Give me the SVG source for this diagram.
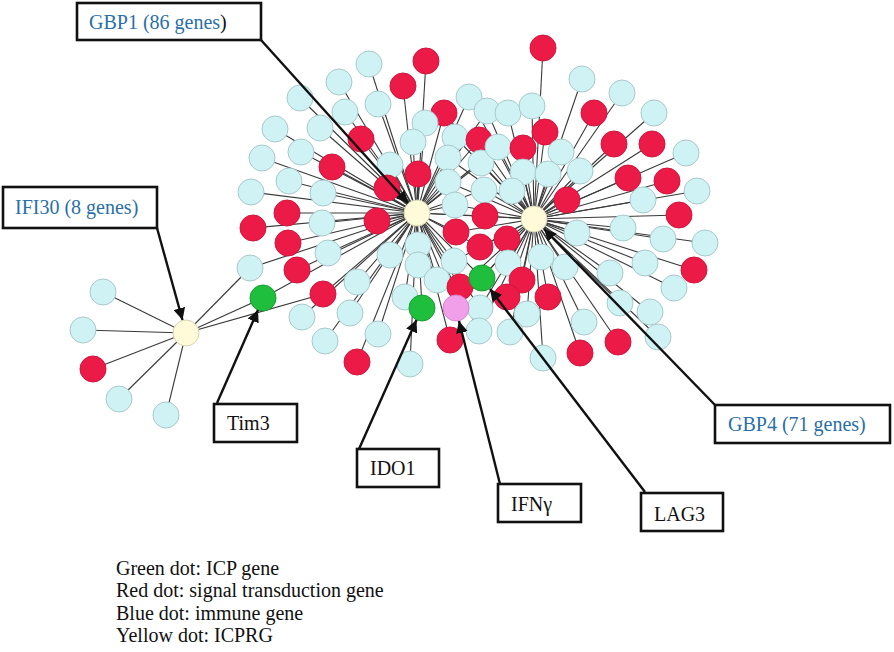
<svg xmlns="http://www.w3.org/2000/svg" width="894" height="652" viewBox="0 0 894 652">
<defs>
<style>
.e{stroke:#3a3a3a;stroke-width:1.1;fill:none}
.b{fill:#cff3f5;stroke:#a9c9cb;stroke-width:1}
.r{fill:#ec1a46;stroke:#d0163d;stroke-width:1}
.g{fill:#1fbe3c;stroke:#17a032;stroke-width:1}
.p{fill:#f29fea;stroke:#d884d0;stroke-width:1}
.y{fill:#fffbd8;stroke:#d8d4b0;stroke-width:1}
.box{fill:#fff;stroke:#111;stroke-width:2.6}
.lead{stroke:#111;stroke-width:2.4;fill:none;marker-end:url(#ah)}
.t{font-family:"Liberation Serif","Times New Roman",serif;font-size:20px;fill:#111}
.bl{fill:#2a6fa8}
</style>
<marker id="ah" viewBox="0 0 10 10" refX="10" refY="5" markerWidth="5" markerHeight="5" orient="auto" markerUnits="strokeWidth">
<path d="M0 0L10 5L0 10z" fill="#111"/>
</marker>
</defs>
<rect width="894" height="652" fill="#fff"/>
<g id="connectors">
<!-- GBP1 hub edges -->
<g id="edges-gbp1">
<line class="e" x1="417" y1="213" x2="426" y2="61"/><line class="e" x1="417" y1="213" x2="369" y2="64"/><line class="e" x1="417" y1="213" x2="403" y2="86"/><line class="e" x1="417" y1="213" x2="339" y2="82"/><line class="e" x1="417" y1="213" x2="300" y2="98"/><line class="e" x1="417" y1="213" x2="378" y2="104"/><line class="e" x1="417" y1="213" x2="444" y2="113"/><line class="e" x1="417" y1="213" x2="345" y2="112"/><line class="e" x1="417" y1="213" x2="425" y2="123"/><line class="e" x1="417" y1="213" x2="320" y2="128"/><line class="e" x1="417" y1="213" x2="275" y2="129"/><line class="e" x1="417" y1="213" x2="361" y2="139"/><line class="e" x1="417" y1="213" x2="413" y2="142"/><line class="e" x1="417" y1="213" x2="455" y2="137"/><line class="e" x1="417" y1="213" x2="479" y2="140"/><line class="e" x1="417" y1="213" x2="301" y2="152"/><line class="e" x1="417" y1="213" x2="262" y2="158"/><line class="e" x1="417" y1="213" x2="332" y2="167"/><line class="e" x1="417" y1="213" x2="390" y2="165"/><line class="e" x1="417" y1="213" x2="418" y2="174"/><line class="e" x1="417" y1="213" x2="448" y2="158"/><line class="e" x1="417" y1="213" x2="481" y2="163"/><line class="e" x1="417" y1="213" x2="289" y2="181"/><line class="e" x1="417" y1="213" x2="387" y2="188"/><line class="e" x1="417" y1="213" x2="323" y2="193"/><line class="e" x1="417" y1="213" x2="251" y2="192"/><line class="e" x1="417" y1="213" x2="448" y2="182"/><line class="e" x1="417" y1="213" x2="469" y2="97"/><line class="e" x1="417" y1="213" x2="487" y2="111"/><line class="e" x1="417" y1="213" x2="498" y2="147"/><line class="e" x1="417" y1="213" x2="484" y2="190"/><line class="e" x1="417" y1="213" x2="287" y2="213"/><line class="e" x1="417" y1="213" x2="322" y2="223"/><line class="e" x1="417" y1="213" x2="377" y2="221"/><line class="e" x1="417" y1="213" x2="455" y2="205"/><line class="e" x1="417" y1="213" x2="485" y2="216"/><line class="e" x1="417" y1="213" x2="253" y2="228"/><line class="e" x1="417" y1="213" x2="288" y2="243"/><line class="e" x1="417" y1="213" x2="456" y2="232"/><line class="e" x1="417" y1="213" x2="480" y2="247"/><line class="e" x1="417" y1="213" x2="328" y2="253"/><line class="e" x1="417" y1="213" x2="390" y2="255"/><line class="e" x1="417" y1="213" x2="418" y2="245"/><line class="e" x1="417" y1="213" x2="418" y2="265"/><line class="e" x1="417" y1="213" x2="454" y2="261"/><line class="e" x1="417" y1="213" x2="250" y2="268"/><line class="e" x1="417" y1="213" x2="297" y2="270"/><line class="e" x1="417" y1="213" x2="357" y2="282"/><line class="e" x1="417" y1="213" x2="437" y2="280"/><line class="e" x1="417" y1="213" x2="482" y2="278"/><line class="e" x1="417" y1="213" x2="460" y2="287"/><line class="e" x1="417" y1="213" x2="405" y2="297"/><line class="e" x1="417" y1="213" x2="323" y2="294"/><line class="e" x1="417" y1="213" x2="263" y2="298"/><line class="e" x1="417" y1="213" x2="422" y2="308"/><line class="e" x1="417" y1="213" x2="456" y2="308"/><line class="e" x1="417" y1="213" x2="480" y2="308"/><line class="e" x1="417" y1="213" x2="302" y2="317"/><line class="e" x1="417" y1="213" x2="350" y2="313"/><line class="e" x1="417" y1="213" x2="325" y2="341"/><line class="e" x1="417" y1="213" x2="378" y2="334"/><line class="e" x1="417" y1="213" x2="450" y2="340"/><line class="e" x1="417" y1="213" x2="479" y2="331"/><line class="e" x1="417" y1="213" x2="357" y2="362"/><line class="e" x1="417" y1="213" x2="410" y2="364"/><line class="e" x1="417" y1="213" x2="534" y2="219"/>
</g>
<!-- GBP4 hub edges -->
<g id="edges-gbp4">
<line class="e" x1="534" y1="219" x2="444" y2="113"/><line class="e" x1="534" y1="219" x2="455" y2="137"/><line class="e" x1="534" y1="219" x2="479" y2="140"/><line class="e" x1="534" y1="219" x2="448" y2="158"/><line class="e" x1="534" y1="219" x2="481" y2="163"/><line class="e" x1="534" y1="219" x2="448" y2="182"/><line class="e" x1="534" y1="219" x2="543" y2="48"/><line class="e" x1="534" y1="219" x2="582" y2="79"/><line class="e" x1="534" y1="219" x2="622" y2="93"/><line class="e" x1="534" y1="219" x2="469" y2="97"/><line class="e" x1="534" y1="219" x2="487" y2="111"/><line class="e" x1="534" y1="219" x2="508" y2="113"/><line class="e" x1="534" y1="219" x2="532" y2="106"/><line class="e" x1="534" y1="219" x2="594" y2="113"/><line class="e" x1="534" y1="219" x2="654" y2="113"/><line class="e" x1="534" y1="219" x2="545" y2="132"/><line class="e" x1="534" y1="219" x2="498" y2="147"/><line class="e" x1="534" y1="219" x2="523" y2="148"/><line class="e" x1="534" y1="219" x2="561" y2="152"/><line class="e" x1="534" y1="219" x2="614" y2="144"/><line class="e" x1="534" y1="219" x2="652" y2="144"/><line class="e" x1="534" y1="219" x2="686" y2="153"/><line class="e" x1="534" y1="219" x2="523" y2="172"/><line class="e" x1="534" y1="219" x2="548" y2="174"/><line class="e" x1="534" y1="219" x2="580" y2="171"/><line class="e" x1="534" y1="219" x2="628" y2="178"/><line class="e" x1="534" y1="219" x2="667" y2="181"/><line class="e" x1="534" y1="219" x2="484" y2="190"/><line class="e" x1="534" y1="219" x2="512" y2="191"/><line class="e" x1="534" y1="219" x2="567" y2="200"/><line class="e" x1="534" y1="219" x2="643" y2="200"/><line class="e" x1="534" y1="219" x2="697" y2="191"/><line class="e" x1="534" y1="219" x2="455" y2="205"/><line class="e" x1="534" y1="219" x2="485" y2="216"/><line class="e" x1="534" y1="219" x2="679" y2="215"/><line class="e" x1="534" y1="219" x2="456" y2="232"/><line class="e" x1="534" y1="219" x2="577" y2="233"/><line class="e" x1="534" y1="219" x2="623" y2="228"/><line class="e" x1="534" y1="219" x2="507" y2="239"/><line class="e" x1="534" y1="219" x2="480" y2="247"/><line class="e" x1="534" y1="219" x2="663" y2="239"/><line class="e" x1="534" y1="219" x2="705" y2="243"/><line class="e" x1="534" y1="219" x2="454" y2="261"/><line class="e" x1="534" y1="219" x2="508" y2="263"/><line class="e" x1="534" y1="219" x2="541" y2="257"/><line class="e" x1="534" y1="219" x2="565" y2="267"/><line class="e" x1="534" y1="219" x2="610" y2="273"/><line class="e" x1="534" y1="219" x2="645" y2="263"/><line class="e" x1="534" y1="219" x2="694" y2="270"/><line class="e" x1="534" y1="219" x2="482" y2="278"/><line class="e" x1="534" y1="219" x2="522" y2="280"/><line class="e" x1="534" y1="219" x2="460" y2="287"/><line class="e" x1="534" y1="219" x2="507" y2="297"/><line class="e" x1="534" y1="219" x2="548" y2="297"/><line class="e" x1="534" y1="219" x2="674" y2="288"/><line class="e" x1="534" y1="219" x2="456" y2="308"/><line class="e" x1="534" y1="219" x2="480" y2="308"/><line class="e" x1="534" y1="219" x2="527" y2="314"/><line class="e" x1="534" y1="219" x2="620" y2="303"/><line class="e" x1="534" y1="219" x2="650" y2="312"/><line class="e" x1="534" y1="219" x2="584" y2="322"/><line class="e" x1="534" y1="219" x2="479" y2="331"/><line class="e" x1="534" y1="219" x2="510" y2="332"/><line class="e" x1="534" y1="219" x2="618" y2="342"/><line class="e" x1="534" y1="219" x2="658" y2="337"/><line class="e" x1="534" y1="219" x2="543" y2="358"/><line class="e" x1="534" y1="219" x2="580" y2="353"/>
</g>
<!-- IFI30 hub edges -->
<g id="edges-ifi30">
<line class="e" x1="186" y1="333" x2="103" y2="292"/><line class="e" x1="186" y1="333" x2="83" y2="330"/><line class="e" x1="186" y1="333" x2="93" y2="369"/><line class="e" x1="186" y1="333" x2="119" y2="399"/><line class="e" x1="186" y1="333" x2="166" y2="415"/><line class="e" x1="186" y1="333" x2="250" y2="268"/><line class="e" x1="186" y1="333" x2="263" y2="298"/><line class="e" x1="186" y1="333" x2="323" y2="294"/>
</g>
</g>
<g id="nodes">
<g id="n1"><circle class="r" cx="426" cy="61" r="13"/></g>
<g id="n2"><circle class="b" cx="369" cy="64" r="13"/></g>
<g id="n3"><circle class="r" cx="403" cy="86" r="13"/></g>
<g id="n4"><circle class="b" cx="339" cy="82" r="13"/></g>
<g id="n5"><circle class="b" cx="300" cy="98" r="13"/></g>
<g id="n6"><circle class="b" cx="378" cy="104" r="13"/></g>
<g id="n7"><circle class="r" cx="444" cy="113" r="13"/></g>
<g id="n8"><circle class="b" cx="345" cy="112" r="13"/></g>
<g id="n9"><circle class="b" cx="425" cy="123" r="13"/></g>
<g id="n10"><circle class="b" cx="320" cy="128" r="13"/></g>
<g id="n11"><circle class="b" cx="275" cy="129" r="13"/></g>
<g id="n12"><circle class="r" cx="361" cy="139" r="13"/></g>
<g id="n13"><circle class="b" cx="413" cy="142" r="13"/></g>
<g id="n14"><circle class="b" cx="455" cy="137" r="13"/></g>
<g id="n15"><circle class="r" cx="479" cy="140" r="13"/></g>
<g id="n16"><circle class="b" cx="301" cy="152" r="13"/></g>
<g id="n17"><circle class="b" cx="262" cy="158" r="13"/></g>
<g id="n18"><circle class="r" cx="332" cy="167" r="13"/></g>
<g id="n19"><circle class="b" cx="390" cy="165" r="13"/></g>
<g id="n20"><circle class="r" cx="418" cy="174" r="13"/></g>
<g id="n21"><circle class="b" cx="448" cy="158" r="13"/></g>
<g id="n22"><circle class="b" cx="481" cy="163" r="13"/></g>
<g id="n23"><circle class="b" cx="289" cy="181" r="13"/></g>
<g id="n24"><circle class="r" cx="387" cy="188" r="13"/></g>
<g id="n25"><circle class="b" cx="323" cy="193" r="13"/></g>
<g id="n26"><circle class="b" cx="251" cy="192" r="13"/></g>
<g id="n27"><circle class="b" cx="448" cy="182" r="13"/></g>
<g id="n28"><circle class="r" cx="543" cy="48" r="13"/></g>
<g id="n29"><circle class="b" cx="582" cy="79" r="13"/></g>
<g id="n30"><circle class="b" cx="622" cy="93" r="13"/></g>
<g id="n31"><circle class="b" cx="469" cy="97" r="13"/></g>
<g id="n32"><circle class="b" cx="487" cy="111" r="13"/></g>
<g id="n33"><circle class="b" cx="508" cy="113" r="13"/></g>
<g id="n34"><circle class="b" cx="532" cy="106" r="13"/></g>
<g id="n35"><circle class="r" cx="594" cy="113" r="13"/></g>
<g id="n36"><circle class="b" cx="654" cy="113" r="13"/></g>
<g id="n37"><circle class="r" cx="545" cy="132" r="13"/></g>
<g id="n38"><circle class="b" cx="498" cy="147" r="13"/></g>
<g id="n39"><circle class="r" cx="523" cy="148" r="13"/></g>
<g id="n40"><circle class="b" cx="561" cy="152" r="13"/></g>
<g id="n41"><circle class="r" cx="614" cy="144" r="13"/></g>
<g id="n42"><circle class="r" cx="652" cy="144" r="13"/></g>
<g id="n43"><circle class="b" cx="686" cy="153" r="13"/></g>
<g id="n44"><circle class="b" cx="523" cy="172" r="13"/></g>
<g id="n45"><circle class="b" cx="548" cy="174" r="13"/></g>
<g id="n46"><circle class="b" cx="580" cy="171" r="13"/></g>
<g id="n47"><circle class="r" cx="628" cy="178" r="13"/></g>
<g id="n48"><circle class="r" cx="667" cy="181" r="13"/></g>
<g id="n49"><circle class="b" cx="484" cy="190" r="13"/></g>
<g id="n50"><circle class="b" cx="512" cy="191" r="13"/></g>
<g id="n51"><circle class="r" cx="567" cy="200" r="13"/></g>
<g id="n52"><circle class="b" cx="643" cy="200" r="13"/></g>
<g id="n53"><circle class="b" cx="697" cy="191" r="13"/></g>
<g id="n54"><circle class="r" cx="287" cy="213" r="13"/></g>
<g id="n55"><circle class="b" cx="322" cy="223" r="13"/></g>
<g id="n56"><circle class="r" cx="377" cy="221" r="13"/></g>
<g id="n58"><circle class="b" cx="455" cy="205" r="13"/></g>
<g id="n59"><circle class="r" cx="485" cy="216" r="13"/></g>
<g id="n61"><circle class="r" cx="679" cy="215" r="13"/></g>
<g id="n62"><circle class="r" cx="253" cy="228" r="13"/></g>
<g id="n63"><circle class="r" cx="288" cy="243" r="13"/></g>
<g id="n64"><circle class="r" cx="456" cy="232" r="13"/></g>
<g id="n65"><circle class="b" cx="577" cy="233" r="13"/></g>
<g id="n66"><circle class="b" cx="623" cy="228" r="13"/></g>
<g id="n67"><circle class="r" cx="507" cy="239" r="13"/></g>
<g id="n68"><circle class="r" cx="480" cy="247" r="13"/></g>
<g id="n69"><circle class="b" cx="663" cy="239" r="13"/></g>
<g id="n70"><circle class="b" cx="705" cy="243" r="13"/></g>
<g id="n71"><circle class="b" cx="328" cy="253" r="13"/></g>
<g id="n72"><circle class="b" cx="390" cy="255" r="13"/></g>
<g id="n73"><circle class="b" cx="418" cy="245" r="13"/></g>
<g id="n74"><circle class="b" cx="418" cy="265" r="13"/></g>
<g id="n75"><circle class="b" cx="454" cy="261" r="13"/></g>
<g id="n76"><circle class="b" cx="508" cy="263" r="13"/></g>
<g id="n77"><circle class="b" cx="541" cy="257" r="13"/></g>
<g id="n78"><circle class="b" cx="565" cy="267" r="13"/></g>
<g id="n79"><circle class="b" cx="610" cy="273" r="13"/></g>
<g id="n80"><circle class="b" cx="645" cy="263" r="13"/></g>
<g id="n81"><circle class="r" cx="694" cy="270" r="13"/></g>
<g id="n82"><circle class="b" cx="250" cy="268" r="13"/></g>
<g id="n83"><circle class="r" cx="297" cy="270" r="13"/></g>
<g id="n84"><circle class="b" cx="357" cy="282" r="13"/></g>
<g id="n85"><circle class="b" cx="437" cy="280" r="13"/></g>
<g id="n87"><circle class="r" cx="522" cy="280" r="13"/></g>
<g id="n88"><circle class="r" cx="460" cy="287" r="13"/></g>
<g id="n89"><circle class="b" cx="405" cy="297" r="13"/></g>
<g id="n90"><circle class="r" cx="323" cy="294" r="13"/></g>
<g id="n91"><circle class="r" cx="507" cy="297" r="13"/></g>
<g id="n92"><circle class="r" cx="548" cy="297" r="13"/></g>
<g id="n93"><circle class="b" cx="674" cy="288" r="13"/></g>
<g id="n97"><circle class="b" cx="480" cy="308" r="13"/></g>
<g id="n98"><circle class="b" cx="527" cy="314" r="13"/></g>
<g id="n99"><circle class="b" cx="620" cy="303" r="13"/></g>
<g id="n100"><circle class="b" cx="650" cy="312" r="13"/></g>
<g id="n101"><circle class="b" cx="302" cy="317" r="13"/></g>
<g id="n102"><circle class="b" cx="350" cy="313" r="13"/></g>
<g id="n103"><circle class="b" cx="584" cy="322" r="13"/></g>
<g id="n104"><circle class="b" cx="325" cy="341" r="13"/></g>
<g id="n105"><circle class="b" cx="378" cy="334" r="13"/></g>
<g id="n106"><circle class="r" cx="450" cy="340" r="13"/></g>
<g id="n107"><circle class="b" cx="479" cy="331" r="13"/></g>
<g id="n108"><circle class="b" cx="510" cy="332" r="13"/></g>
<g id="n109"><circle class="r" cx="618" cy="342" r="13"/></g>
<g id="n110"><circle class="b" cx="658" cy="337" r="13"/></g>
<g id="n111"><circle class="r" cx="357" cy="362" r="13"/></g>
<g id="n112"><circle class="b" cx="410" cy="364" r="13"/></g>
<g id="n113"><circle class="b" cx="543" cy="358" r="13"/></g>
<g id="n114"><circle class="r" cx="580" cy="353" r="13"/></g>
<g id="n116"><circle class="b" cx="103" cy="292" r="13"/></g>
<g id="n117"><circle class="b" cx="83" cy="330" r="13"/></g>
<g id="n118"><circle class="r" cx="93" cy="369" r="13"/></g>
<g id="n119"><circle class="b" cx="119" cy="399" r="13"/></g>
<g id="n120"><circle class="b" cx="166" cy="415" r="13"/></g>
<g id="lag3-node"><circle class="g" cx="482" cy="278" r="13"/></g>
<g id="tim3-node"><circle class="g" cx="263" cy="298" r="13"/></g>
<g id="ido1-node"><circle class="g" cx="422" cy="308" r="13"/></g>
<g id="ifng-node"><circle class="p" cx="456" cy="308" r="13"/></g>
<g id="gbp1-node"><circle class="y" cx="417" cy="213" r="13"/></g>
<g id="gbp4-node"><circle class="y" cx="534" cy="219" r="13"/></g>
<g id="ifi30-node"><circle class="y" cx="186" cy="333" r="13"/></g>
</g>
<g id="leaders">
<line class="lead" x1="261" y1="40" x2="408" y2="203"/>
<line class="lead" x1="157" y1="228" x2="182.5" y2="320"/>
<line class="lead" x1="715" y1="405" x2="544" y2="229"/>
<line class="lead" x1="217" y1="403" x2="258" y2="310"/>
<line class="lead" x1="359" y1="449" x2="416.5" y2="320"/>
<line class="lead" x1="500" y1="484" x2="459" y2="321"/>
<line class="lead" x1="645" y1="492" x2="490" y2="289"/>
</g>
<g id="gbp1-label"><rect class="box" x="77" y="3" width="184" height="37"/><text class="t" x="89" y="29"><tspan class="bl">GBP1 (86 genes</tspan>)</text></g>
<g id="ifi30-label"><rect class="box" x="3" y="187" width="154" height="41"/><text class="t bl" x="15" y="214">IFI30 (8 genes)</text></g>
<g id="gbp4-label"><rect class="box" x="715" y="405" width="175" height="38"/><text class="t bl" x="728" y="431">GBP4 (71 genes)</text></g>
<g id="tim3-label"><rect class="box" x="214" y="404" width="83" height="38"/><text class="t" x="227" y="430">Tim3</text></g>
<g id="ido1-label"><rect class="box" x="357" y="449" width="82" height="38"/><text class="t" x="370" y="475">IDO1</text></g>
<g id="ifng-label"><rect class="box" x="498" y="484" width="83" height="38"/><text class="t" x="511" y="511">IFNγ</text></g>
<g id="lag3-label"><rect class="box" x="641" y="493" width="82" height="38"/><text class="t" x="654" y="521">LAG3</text></g>
<g id="legend">
<text class="t" x="116" y="575">Green dot: ICP gene</text>
<text class="t" x="116" y="597">Red dot: signal transduction gene</text>
<text class="t" x="116" y="620">Blue dot: immune gene</text>
<text class="t" x="116" y="642">Yellow dot: ICPRG</text>
</g>
</svg>
